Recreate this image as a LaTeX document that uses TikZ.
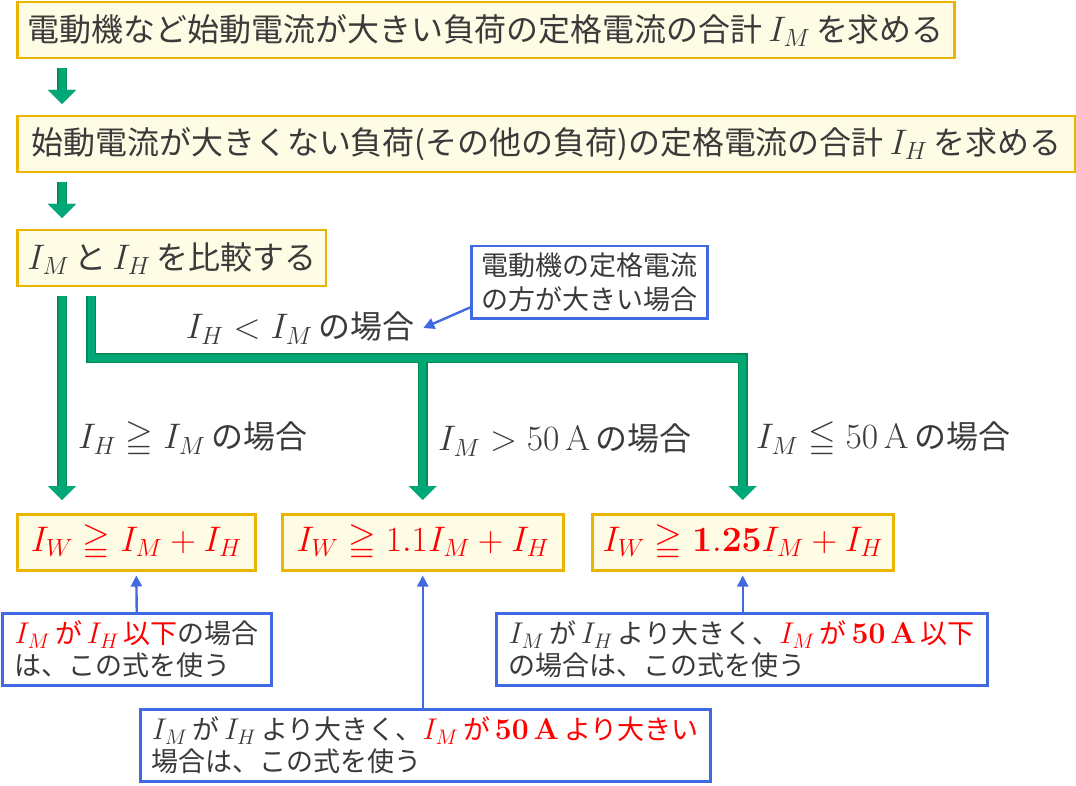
\RequirePackage{fix-cm}
\documentclass[tikz,border=0pt]{standalone}
\DeclareFontFamily{U}{msa}{}
\DeclareFontShape{U}{msa}{m}{n}{<->msam10}{}
\usepackage{amsmath,amssymb}
\usepackage[no-math]{fontspec}
\setmainfont{Noto Sans CJK JP}[Scale=0.9]
\usetikzlibrary{arrows.meta}

\definecolor{boxline}{HTML}{EBB400}
\definecolor{boxfill}{HTML}{FFFCE6}
\definecolor{flowgreen}{HTML}{00A878}
\definecolor{flowdark}{HTML}{008C52}
\definecolor{noteblue}{HTML}{4169E1}
\definecolor{txt}{HTML}{3A3A3A}

\newcommand{\bigtxt}{\fontsize{35.5}{42}\selectfont}
\newcommand{\notetxt}{\fontsize{30}{32}\selectfont}
\newcommand{\calltxt}{\fontsize{30}{34}\selectfont}
\newcommand{\gap}{\hspace{0.18em}}

\tikzset{
    stepbox/.style={draw=boxline, fill=boxfill, line width=2.5pt, anchor=north west,
        minimum height=56pt, inner xsep=10pt, inner ysep=0pt, text=txt, font=\bigtxt},
    formbox/.style={stepbox, text=red},
    notebox/.style={draw=noteblue, fill=white, line width=2.5pt, anchor=north west,
        align=left, minimum height=72pt, inner xsep=6pt, inner ysep=3pt, text=txt, font=\notetxt},
    flow/.style={draw=flowgreen, line width=7pt, -{Triangle[width=27pt,length=14pt]},
        preaction={draw=flowdark, line width=9.5pt}},
    noteline/.style={draw=noteblue, line width=2.4pt, -{Triangle[width=11pt,length=11pt]}},
    caselabel/.style={anchor=west, text=txt, font=\bigtxt}
}

\begin{document}
\begin{tikzpicture}[x=1pt, y=-1pt]
\useasboundingbox (0,0) rectangle (1076,786);

\path (16,1) node[stepbox, minimum width=937pt] (sumM) {電動機など始動電流が大きい負荷の定格電流の合計\gap$I_M$\gap を求める};
\path (16,115) node[stepbox, minimum width=1058pt] (sumH) {始動電流が大きくない負荷(その他の負荷)の定格電流の合計\gap$I_H$\gap を求める};
\path (16,229) node[stepbox, minimum width=305pt] (cmp) {$I_M$\gap と\gap$I_H$\gap を比較する};

\path (16,513) node[formbox, minimum width=238pt] (wA) {$I_W \geqq I_M + I_H$};
\path (281,513) node[formbox, minimum width=281pt] (wB) {$I_W \geqq 1.1 I_M + I_H$};
\path (591,513) node[formbox, minimum width=301pt] (wC) {$I_W \geqq \mathbf{1.25} I_M + I_H$};

\draw[flow, shorten <=9pt, shorten >=11pt] ([xshift=46pt]sumM.south west) -- ([xshift=46pt]sumH.north west);
\draw[flow, shorten <=9pt, shorten >=11pt] ([xshift=46pt]sumH.south west) -- ([xshift=46pt]cmp.north west);

% branches
\coordinate (fork) at (wB.north |- 0,358);
\draw[flow, shorten <=9pt, shorten >=13pt] ([xshift=46pt]cmp.south west) -- ([xshift=46pt]wA.north west);
\draw[flow, shorten <=9pt, shorten >=13pt] ([xshift=75pt]cmp.south west) |- (fork) -| (wC.north);
\draw[flow, shorten <=3.5pt, shorten >=13pt] (fork) -- (wB.north);

\path (300,328) node[text=txt, font=\bigtxt] (lessM) {$I_H < I_M$\gap の場合};
\path (75,440) node[caselabel] (caseA) {$I_H \geqq I_M$\gap の場合};
\path (435,440) node[caselabel] (caseB) {$I_M > 50\,\mathrm{A}$\gap の場合};
\path (753,440) node[caselabel] (caseC) {$I_M \leqq 50\,\mathrm{A}$\gap の場合};

\path (470,245) node[notebox, font=\calltxt, minimum width=236pt] (motor) {電動機の定格電流\\の方が大きい場合};
\draw[noteline] ([yshift=12pt]motor.south west) -- ([xshift=6pt]lessM.east);

\path (1,612) node[notebox, minimum width=269pt] (noteA) {\textcolor{red}{$I_M$\gap が\gap$I_H$\gap 以下}の場合\\は、この式を使う};
\path (139,708) node[notebox, minimum width=570pt] (noteB) {$I_M$\gap が\gap$I_H$\gap より大きく、\textcolor{red}{$I_M$\gap が\gap$\mathbf{50\,A}$\gap より大きい}\\場合は、この式を使う};
\path (495,612) node[notebox, minimum width=491pt] (noteC) {$I_M$\gap が\gap$I_H$\gap より大きく、\textcolor{red}{$I_M$\gap が\gap$\mathbf{50\,A}$\gap 以下}\\の場合は、この式を使う};

\draw[noteline, shorten >=4pt] (noteA.north) -- (wA.south);
\draw[noteline, shorten >=4pt] (wB.south |- noteB.north) -- (wB.south);
\draw[noteline, shorten >=4pt] (wC.south |- noteC.north) -- (wC.south);

\end{tikzpicture}
\end{document}
